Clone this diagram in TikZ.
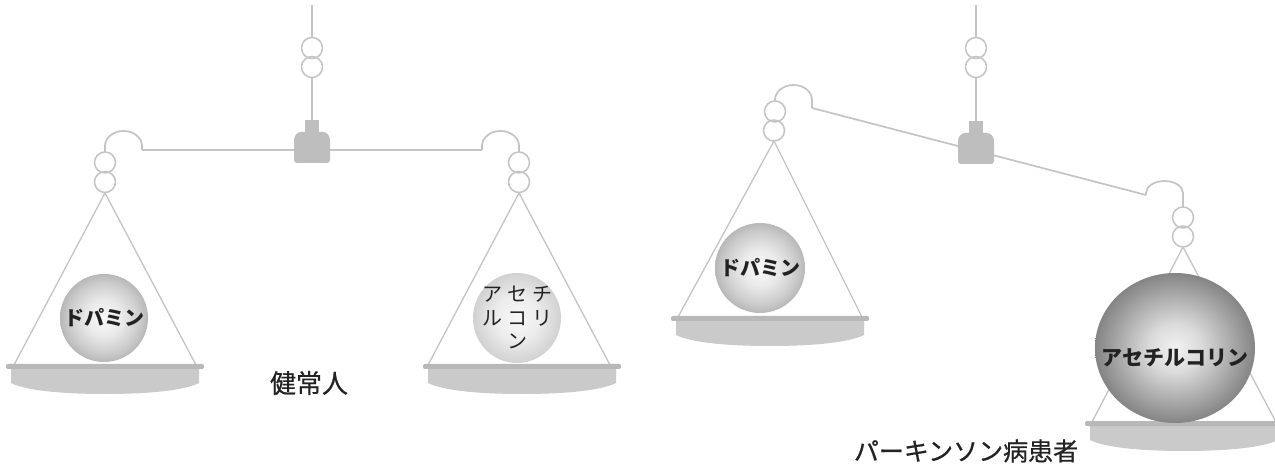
\documentclass[tikz,border=0pt]{standalone}
\usepackage{fontspec}
\usetikzlibrary{shapes.geometric}
\newfontfamily\jp{Noto Sans CJK JP}
\newfontfamily\jpmed{Noto Sans CJK JP}[FakeBold=0.6]

\definecolor{wirecol}{HTML}{C4C4C4}
\definecolor{rimcol}{HTML}{B8B8B8}
\definecolor{pancol}{HTML}{CACACA}
\definecolor{blockcol}{HTML}{BEBEBE}
\definecolor{inkcol}{HTML}{222222}

% ball shadings: light centre, grey rim
\pgfdeclareradialshading{dopshade}{\pgfpoint{0bp}{0bp}}{%
  rgb(0bp)=(0.97,0.97,0.97); rgb(10bp)=(0.92,0.92,0.92);
  rgb(20bp)=(0.80,0.80,0.80); rgb(25bp)=(0.72,0.72,0.72);
  rgb(50bp)=(0.72,0.72,0.72)}
\pgfdeclareradialshading{achlight}{\pgfpoint{0bp}{0bp}}{%
  rgb(0bp)=(0.97,0.97,0.97); rgb(12bp)=(0.93,0.93,0.93);
  rgb(25bp)=(0.82,0.82,0.82); rgb(50bp)=(0.82,0.82,0.82)}
\pgfdeclareradialshading{achdark}{\pgfpoint{0bp}{0bp}}{%
  rgb(0bp)=(0.95,0.95,0.95); rgb(8bp)=(0.86,0.86,0.86);
  rgb(17bp)=(0.68,0.68,0.68); rgb(25bp)=(0.52,0.52,0.52);
  rgb(50bp)=(0.52,0.52,0.52)}

\tikzset{
  wire/.style={draw=wirecol, line width=1.7pt},
  cord/.style={draw=wirecol, line width=1.3pt},
  ringst/.style={draw=wirecol, line width=1.5pt},
  ball/.style={ellipse, inner sep=0pt, draw=none},
  balltext/.style={font=\jp\bfseries\fontsize{20}{22}\selectfont, text=inkcol},
  rowtext/.style={font=\jp\fontsize{20}{22}\selectfont, text=inkcol, inner sep=0pt},
  caption/.style={font=\jpmed\fontsize{25}{27}\selectfont, text=inkcol},
  pan/.pic={
    \fill[pancol] (-94,3) -- (94,3) -- (94,18)
      .. controls (78,26) and (40,29) .. (0,29)
      .. controls (-40,29) and (-78,26) .. (-94,18) -- cycle;
    \fill[rimcol, rounded corners=2pt] (-99,-1) rectangle (99,4);
  },
  weight/.pic={
    \fill[blockcol] (-7,0) rectangle (7,14);
    \fill[blockcol, rounded corners=3pt] (-14,12) -- (14,12) -- (18,17)
      -- (18,43) -- (-18,43) -- (-18,17) -- cycle;
  }
}

\begin{document}
\begin{tikzpicture}[x=1pt, y=-1pt]
\fill[white] (0,0) rectangle (1275,470);
\useasboundingbox (0,0) rectangle (1275,470);

% ---------------- balanced scale ----------------
\coordinate (hA) at (312,5);
\coordinate (pivA) at (312,120);
\coordinate (bAl) at (142,150);
\coordinate (bAr) at (482,150);
\coordinate (apexAl) at (105,193);
\coordinate (apexAr) at (519,193);

% suspension
\draw[wire] (hA) -- (312,37.5);
\draw[ringst] (312,48) circle[radius=10.5pt];
\draw[ringst] (312,67) circle[radius=10.5pt];
\draw[wire] (312,77.5) -- (pivA);
% beam with hooks
\draw[wire] (bAl) -- (bAr);
\draw[wire] (bAl) -- (142,146) arc[start angle=0, end angle=180, x radius=18.5pt, y radius=15pt] -- (105,152);
\draw[wire] (bAr) -- (482,146) arc[start angle=180, end angle=0, x radius=18.5pt, y radius=15pt] -- (519,152);
\pic at (pivA) {weight};
% hanging rings
\draw[ringst] (105,162.5) circle[radius=10.5pt];
\draw[ringst] (105,182) circle[radius=10.5pt];
\draw[ringst] (519,162.5) circle[radius=10.5pt];
\draw[ringst] (519,182) circle[radius=10.5pt];
% pan cords
\draw[cord] (14,365) -- (apexAl) -- (196,365);
\draw[cord] (428,365) -- (apexAr) -- (610,365);
% pans
\pic at (105,365) {pan};
\pic at (522,365) {pan};
% loads
\node[ball, minimum width=88pt, minimum height=88pt, shading=dopshade] (dopA) at (104,318) {};
\node[balltext] at (dopA.center) {ドパミン};
\node[ball, minimum width=88pt, minimum height=90pt, shading=achlight] (achA) at (517,318) {};
\node[rowtext] (achA1) at ([yshift=24pt]achA.center) {ア\hspace{5pt}セ\hspace{5pt}チ};
\node[rowtext] (achA2) at ([yshift=0pt]achA.center) {ル\hspace{5pt}コ\hspace{5pt}リ};
\node[rowtext] (achA3) at ([yshift=-23pt]achA.center) {ン};
\node[caption, font=\jpmed\fontsize{26}{28}\selectfont] (capA) at (309,383) {健常人};

% ---------------- tilted scale ----------------
\coordinate (hB) at (976,5);
\coordinate (pivB) at (976,121);
\coordinate (bBl) at (812,108);
\coordinate (bBr) at (1146,195);
\coordinate (apexBl) at (774,141);
\coordinate (apexBr) at (1183,247);

\draw[wire] (hB) -- (976,37.5);
\draw[ringst] (976,48) circle[radius=10.5pt];
\draw[ringst] (976,67) circle[radius=10.5pt];
\draw[wire] (976,77.5) -- (pivB);
\draw[wire] (bBl) -- (bBr);
\draw[wire] (bBl) -- (812,100) arc[start angle=0, end angle=180, x radius=18.5pt, y radius=15pt] -- (775,101);
\draw[wire] (bBr) -- (1146,193) arc[start angle=180, end angle=0, x radius=18.5pt, y radius=12pt] -- (1183,207);
\pic at (pivB) {weight};
\draw[ringst] (775,111.5) circle[radius=10.5pt];
\draw[ringst] (774,130.5) circle[radius=10.5pt];
\draw[ringst] (1183,217.5) circle[radius=10.5pt];
\draw[ringst] (1183,236.5) circle[radius=10.5pt];
\draw[cord] (678,317) -- (apexBl) -- (862,317);
\draw[cord] (1092,422) -- (apexBr) -- (1276,422);
\pic at (770,317) {pan};
\pic at (1184,422) {pan};
\node[ball, minimum width=90pt, minimum height=90pt, shading=dopshade] (dopB) at (760,268) {};
\node[balltext] at (dopB.center) {ドパミン};
\node[ball, minimum width=160pt, minimum height=150pt, shading=achdark] (achB) at (1175,348) {};
\node[balltext, font=\jp\bfseries\fontsize{21}{23}\selectfont] at ([yshift=-10pt]achB.center) {アセチルコリン};
\node[caption] (capB) at (966,451) {パーキンソン病患者};
\end{tikzpicture}
\end{document}
